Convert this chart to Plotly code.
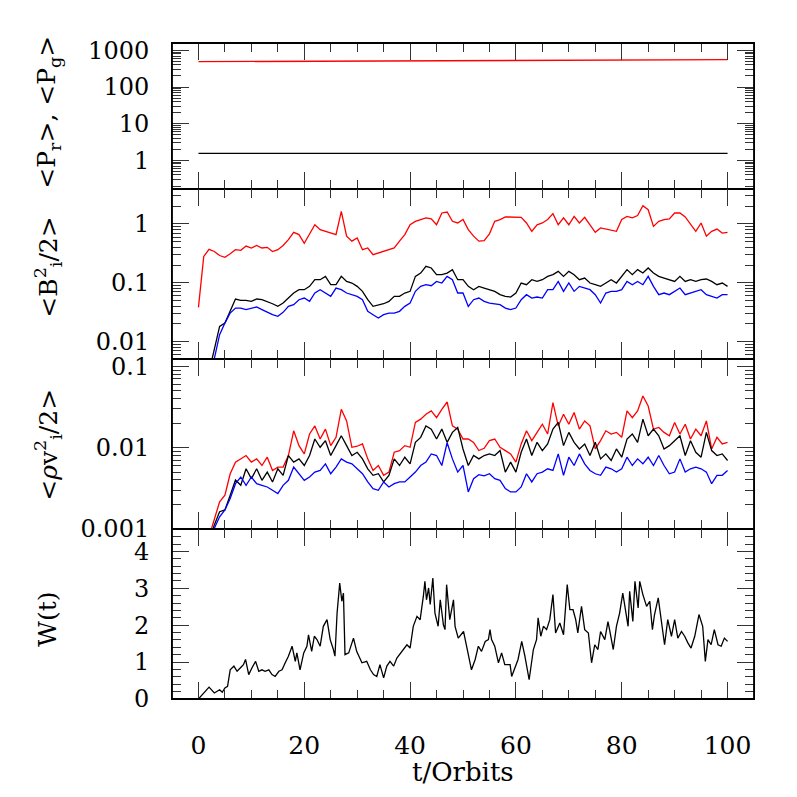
import plotly.graph_objects as go
from plotly.subplots import make_subplots

# ---------------- data ----------------
t_full = list(range(0, 101))
t_late = list(range(2, 101))

# panel 1: pressures
t_p = [0, 50, 100]
p_gas = [490, 522, 558]
p_rad = [1.55, 1.55, 1.55]

# panel 2: magnetic energy <B_i^2/2>
b_red = [0.038, 0.28, 0.37, 0.34, 0.29, 0.27, 0.31, 0.365, 0.356, 0.42,
         0.39, 0.43, 0.39, 0.40, 0.34, 0.365, 0.43, 0.54, 0.72, 0.66,
         0.47, 0.66, 0.97, 0.80, 0.75, 0.70, 0.66, 1.64, 0.62, 0.51,
         0.58, 0.365, 0.39, 0.30, 0.32, 0.34, 0.365, 0.39, 0.51, 0.66,
         0.97, 1.11, 1.19, 1.27, 1.22, 0.97, 1.54, 1.60, 1.11, 1.04,
         1.19, 0.80, 0.62, 0.51, 0.52, 0.68, 1.11, 1.19, 1.32, 1.32,
         1.32, 1.30, 1.04, 0.75, 0.97, 1.04, 1.19, 1.50, 0.97, 1.27,
         0.97, 1.35, 1.04, 1.30, 0.97, 0.72, 0.855, 0.82, 0.80, 0.75,
         1.19, 1.35, 1.27, 1.39, 2.05, 1.75, 0.91, 1.11, 1.19, 1.22,
         1.54, 1.54, 1.32, 0.97, 0.75, 1.04, 0.62, 0.75, 0.82, 0.70,
         0.72]
b_black = [0.003, 0.0072, 0.018, 0.0205, 0.0325, 0.0527, 0.050, 0.050, 0.048, 0.0527,
           0.0513, 0.048, 0.0438, 0.0395, 0.045, 0.0548, 0.0667, 0.076, 0.076, 0.0866,
           0.1125, 0.1125, 0.128, 0.0925, 0.0925, 0.128, 0.105, 0.0987, 0.0866, 0.0712,
           0.0513, 0.0395, 0.041, 0.0438, 0.048, 0.0585, 0.0585, 0.0667, 0.0712, 0.128,
           0.146, 0.190, 0.178, 0.137, 0.137, 0.146, 0.167, 0.1125, 0.1125, 0.0866,
           0.076, 0.0866, 0.0811, 0.076, 0.0712, 0.0625, 0.0585, 0.057, 0.0667, 0.0987,
           0.0925, 0.1125, 0.105, 0.1125, 0.128, 0.137, 0.156, 0.128, 0.156, 0.137,
           0.1125, 0.120, 0.0987, 0.0925, 0.0866, 0.0987, 0.1125, 0.0987, 0.128, 0.167,
           0.137, 0.167, 0.146, 0.178, 0.146, 0.128, 0.120, 0.1125, 0.105, 0.128,
           0.105, 0.1125, 0.105, 0.1125, 0.1155, 0.105, 0.0925, 0.0987, 0.0866]
b_blue = [0.002, 0.0052, 0.013, 0.0205, 0.0304, 0.037, 0.037, 0.0347, 0.037, 0.0385,
          0.0347, 0.0312, 0.0285, 0.0267, 0.0312, 0.0395, 0.0422, 0.0513, 0.0548, 0.048,
          0.0667, 0.076, 0.0667, 0.0585, 0.0811, 0.076, 0.0667, 0.0625, 0.0585, 0.0513,
          0.0325, 0.0285, 0.025, 0.0285, 0.0304, 0.0304, 0.0325, 0.0395, 0.045, 0.0712,
          0.0866, 0.0925, 0.0889, 0.105, 0.0987, 0.128, 0.1125, 0.0667, 0.0667, 0.0395,
          0.0513, 0.0548, 0.048, 0.045, 0.0438, 0.0422, 0.037, 0.0347, 0.037, 0.0513,
          0.0625, 0.0548, 0.057, 0.0548, 0.076, 0.076, 0.105, 0.0712, 0.0987, 0.0712,
          0.0866, 0.0811, 0.076, 0.0625, 0.045, 0.0667, 0.0712, 0.0712, 0.076, 0.105,
          0.0925, 0.105, 0.0925, 0.128, 0.0866, 0.0625, 0.0667, 0.0625, 0.0712, 0.0811,
          0.0625, 0.0667, 0.0712, 0.076, 0.0625, 0.0585, 0.0548, 0.0625, 0.0625]

# panel 3: kinetic energy <rho v_i^2/2>
v_red = [0.0008, 0.00135, 0.00216, 0.0026, 0.00477, 0.00663, 0.00727, 0.00799, 0.00663, 0.00727,
         0.00603, 0.00762, 0.00524, 0.00576, 0.00576, 0.00799, 0.0161, 0.01058, 0.00837, 0.0147,
         0.0185, 0.01276, 0.0169, 0.01058, 0.01337, 0.0296, 0.0213, 0.0101, 0.0104, 0.0111,
         0.00727, 0.00524, 0.00603, 0.00456, 0.0050, 0.00877, 0.00919, 0.01058, 0.0101, 0.0204,
         0.0224, 0.0257, 0.0283, 0.0234, 0.0296, 0.0364, 0.0185, 0.0169, 0.01276, 0.01276,
         0.0116, 0.0092, 0.0098, 0.0122, 0.01276, 0.0101, 0.00919, 0.00837, 0.00663, 0.0111,
         0.0161, 0.0122, 0.0154, 0.0194, 0.0147, 0.0357, 0.0185, 0.0257, 0.0194, 0.0270,
         0.0169, 0.0213, 0.0185, 0.00963, 0.0122, 0.0161, 0.0147, 0.0154, 0.0134, 0.0283,
         0.0234, 0.0283, 0.0431, 0.0325, 0.0169, 0.0177, 0.0154, 0.0140, 0.0204, 0.0147,
         0.0194, 0.01276, 0.0169, 0.0140, 0.0213, 0.00963, 0.0134, 0.0111, 0.0116]
v_black = [0.0007, 0.00112, 0.00163, 0.00171, 0.0026, 0.0040, 0.00344, 0.00549, 0.00415, 0.00549,
           0.00396, 0.0050, 0.00378, 0.00549, 0.00456, 0.00799, 0.00663, 0.00727, 0.00603, 0.00799,
           0.01276, 0.0101, 0.01217, 0.00799, 0.01058, 0.0140, 0.01058, 0.00799, 0.00877, 0.00727,
           0.00549, 0.00456, 0.00477, 0.00378, 0.00456, 0.00727, 0.00603, 0.00762, 0.00632, 0.01162,
           0.01337, 0.0185, 0.0169, 0.01276, 0.0169, 0.01162, 0.0154, 0.0177, 0.00963, 0.00603,
           0.00799, 0.00727, 0.00799, 0.00837, 0.00799, 0.00919, 0.0050, 0.00663, 0.0050, 0.00877,
           0.01276, 0.00799, 0.01162, 0.00919, 0.01108, 0.0169, 0.0204, 0.01058, 0.0154, 0.01162,
           0.00963, 0.01108, 0.00799, 0.01162, 0.00727, 0.00837, 0.00694, 0.00963, 0.00762, 0.01276,
           0.0147, 0.01162, 0.0224, 0.0140, 0.0169, 0.0140, 0.00963, 0.01058, 0.01217, 0.0140,
           0.00799, 0.01217, 0.00877, 0.00762, 0.0154, 0.00919, 0.00799, 0.00837, 0.00694]
v_blue = [0.0006, 0.00102, 0.00141, 0.00171, 0.00237, 0.0036, 0.00435, 0.00344, 0.00435, 0.0036,
          0.00344, 0.00328, 0.00299, 0.00272, 0.00344, 0.00396, 0.00576, 0.00477, 0.00396, 0.00435,
          0.0050, 0.00524, 0.00632, 0.00477, 0.00576, 0.00727, 0.00663, 0.00632, 0.00549, 0.00477,
          0.00378, 0.00313, 0.00299, 0.00378, 0.00328, 0.0036, 0.00378, 0.00378, 0.00435, 0.0050,
          0.00603, 0.00663, 0.00837, 0.00799, 0.00603, 0.0115, 0.00727, 0.0050, 0.00603, 0.00285,
          0.00415, 0.00465, 0.0045, 0.00477, 0.00415, 0.00396, 0.00313, 0.00285, 0.00285, 0.00328,
          0.00477, 0.00378, 0.00477, 0.0050, 0.00549, 0.00524, 0.00837, 0.00456, 0.00762, 0.00603,
          0.00837, 0.00632, 0.00524, 0.00477, 0.00456, 0.00576, 0.00549, 0.0050, 0.00549, 0.00762,
          0.00603, 0.00727, 0.00632, 0.00762, 0.00603, 0.00799, 0.00603, 0.00477, 0.0050, 0.00727,
          0.0050, 0.00549, 0.00576, 0.00549, 0.0050, 0.0036, 0.00456, 0.00456, 0.00524]

# panel 4: W(t)
t_w = [0, 2, 3, 4, 4.5, 5, 5.5, 6, 6.7, 7.3,
       7.9, 8.5, 8.9, 9.5, 10.1, 10.8, 11.4, 12, 12.6, 13.3,
       13.9, 14.5, 15.2, 15.8, 16.4, 17, 17.7, 18.3, 18.6, 19.2,
       19.9, 20.5, 20.8, 21.4, 21.9, 22.4, 23, 23.6, 24.3, 24.9,
       25.5, 25.8, 26.2, 26.7, 27.1, 27.4, 27.7, 28.4, 29.3, 29.9,
       30.9, 31.8, 32.5, 33.1, 33.7, 34.3, 35, 35.6, 36.2, 36.9,
       37.5, 38.7, 39.4, 40, 40.6, 41.3, 41.9, 42.5, 42.8, 43.1,
       43.5, 43.8, 44.3, 44.7, 45.3, 45.7, 46.3, 46.6, 46.9, 47.5,
       48.2, 48.5, 49.1, 50.1, 50.7, 51.6, 52.3, 52.9, 53.5, 54.2,
       54.8,
       55.1, 55.4, 56, 56.7, 57.3, 57.9, 58.9, 59.2, 59.8, 60.4,
       61.1, 61.7, 62.5, 63.3, 63.9, 64.2, 64.7, 65.2, 65.8, 66.4,
       67, 67.5, 68.3, 69, 69.7, 70.2, 70.8, 71.3, 71.7, 72.4,
       73, 73.7, 74.3, 74.9, 75.5, 76, 76.8, 77.4, 77.7, 78.4,
       79, 79.6, 80.2, 80.8, 81.2, 81.5, 82.1, 82.5, 83.1, 83.4,
       84, 84.7, 85.3, 85.8, 86.2, 86.9, 87.5, 88.1, 88.7, 89.4,
       90, 90.6, 91.3, 91.9, 92.5, 93.1, 93.8, 94.6, 95.3, 95.8,
       96.3, 96.9, 97.5, 98.2, 98.8, 99.4, 100]
w_val = [0, 0.32, 0.16, 0.25, 0.18, 0.30, 0.34, 0.79, 0.89, 0.75,
         0.84, 0.93, 1.07, 0.66, 0.84, 1.02, 0.75, 0.79, 0.75, 0.79,
         0.66, 0.61, 0.75, 0.79, 0.98, 1.16, 1.43, 1.02, 1.25, 0.79,
         1.25, 1.43, 1.74, 1.29, 1.70, 1.61, 1.43, 1.97, 2.15, 1.61,
         1.34, 1.16, 2.33, 3.14, 2.65, 2.87, 1.20, 1.25, 1.65, 1.29,
         0.98, 1.02, 0.79, 0.66, 0.61, 0.93, 0.57, 0.89, 1.02, 0.89,
         1.11, 1.34, 1.47, 1.38, 1.97, 2.24, 2.15, 2.78, 3.19, 2.69,
         3.01, 2.56, 3.28, 2.33, 1.97, 2.69, 2.01, 1.88, 3.10, 2.15,
         2.69, 1.97, 1.65, 1.83, 1.43, 0.79, 1.07, 1.43, 1.29, 1.56,
         1.61,
         1.88, 1.61, 1.43, 0.98, 1.25, 0.93, 0.93, 0.61, 0.84, 1.07,
         1.56, 1.16, 0.52, 1.34, 1.61, 2.20, 1.70, 1.97, 1.88, 2.15,
         2.83, 1.79, 2.06, 1.74, 3.10, 2.42, 2.42, 2.15, 1.79, 2.51,
         1.88, 1.79, 0.98, 1.47, 1.34, 1.83, 1.61, 2.10, 1.88, 1.34,
         1.97, 2.33, 2.87, 2.38, 1.97, 2.92, 2.10, 3.19, 2.47, 3.19,
         2.83, 2.51, 2.65, 1.88, 2.29, 2.74, 2.15, 1.47, 2.15, 1.70,
         2.15, 1.65, 1.83, 1.70, 1.52, 1.38, 1.70, 2.29, 1.97, 1.02,
         1.61, 1.47, 1.88, 1.47, 1.43, 1.65, 1.56]

x_ticks = [0, 20, 40, 60, 80, 100]
x_ticktext = ["0", "20", "40", "60", "80", "100"]

# ---------------- figure ----------------
RED, BLACK, BLUE = "#ff0000", "#000000", "#0000ff"
FONT = "DejaVu Serif"
LW = 1.3
TICKC = "#333333"

fig = make_subplots(rows=4, cols=1, shared_xaxes=True, vertical_spacing=0)

fig.add_trace(go.Scatter(x=t_p, y=p_gas, mode="lines", line=dict(color=RED, width=LW)), 1, 1)
fig.add_trace(go.Scatter(x=t_p, y=p_rad, mode="lines", line=dict(color=BLACK, width=LW)), 1, 1)

fig.add_trace(go.Scatter(x=t_full, y=b_red, mode="lines", line=dict(color=RED, width=LW)), 2, 1)
fig.add_trace(go.Scatter(x=t_late, y=b_black, mode="lines", line=dict(color=BLACK, width=LW)), 2, 1)
fig.add_trace(go.Scatter(x=t_late, y=b_blue, mode="lines", line=dict(color=BLUE, width=LW)), 2, 1)

fig.add_trace(go.Scatter(x=t_late, y=v_red, mode="lines", line=dict(color=RED, width=LW)), 3, 1)
fig.add_trace(go.Scatter(x=t_late, y=v_black, mode="lines", line=dict(color=BLACK, width=LW)), 3, 1)
fig.add_trace(go.Scatter(x=t_late, y=v_blue, mode="lines", line=dict(color=BLUE, width=LW)), 3, 1)

fig.add_trace(go.Scatter(x=t_w, y=w_val, mode="lines", line=dict(color=BLACK, width=LW)), 4, 1)

H = 656.0
doms = [[(699.3 - 189.3) / H, 1.0],
        [(699.3 - 359.3) / H, (699.3 - 189.3) / H],
        [(699.3 - 529.3) / H, (699.3 - 359.3) / H],
        [0.0, (699.3 - 529.3) / H]]

axis_common = dict(showline=True, linecolor="black", linewidth=1.0, mirror="allticks",
                   ticks="inside", ticklen=17, tickwidth=1.2, tickcolor=TICKC,
                   showgrid=False, zeroline=False,
                   tickfont=dict(family=FONT, size=24, color="black"))

for i in range(4):
    name = "xaxis" if i == 0 else "xaxis%d" % (i + 1)
    fig.layout[name].update(dict(axis_common, range=[-5, 105], tickmode="array",
                                 tickvals=x_ticks, ticktext=x_ticktext,
                                 showticklabels=(i == 3),
                                 minor=dict(dtick=5, tick0=0, ticks="inside", ticklen=9,
                                            tickwidth=1.2, tickcolor=TICKC, showgrid=False)))
fig.layout.xaxis4.ticklabelstandoff = 24
fig.layout.xaxis4.tickfont.size = 25

def log_minor(lo, hi):
    return [m * 10.0 ** e for e in range(lo, hi) for m in range(2, 10)]

ycfg = [
    dict(type="log", range=[-0.78, 3.20], tickvals=[1, 10, 100, 1000],
         ticktext=["1", "10", "100", "1000"], minor_vals=log_minor(-1, 4)),
    dict(type="log", range=[-2.30, 0.596], tickvals=[0.01, 0.1, 1],
         ticktext=["0.01", "0.1", "1"], minor_vals=log_minor(-3, 1)),
    dict(type="log", range=[-3.001, -0.91], tickvals=[0.001, 0.01, 0.1],
         ticktext=["0.001", "0.01", "0.1"], minor_vals=log_minor(-3, 0)),
    dict(type="linear", range=[-0.002, 4.61], tickvals=[0, 1, 2, 3, 4],
         ticktext=["0", "1", "2", "3", "4"],
         minor_vals=[k / 5 for k in range(0, 24) if k % 5 != 0]),
]
for i, c in enumerate(ycfg):
    name = "yaxis" if i == 0 else "yaxis%d" % (i + 1)
    fig.layout[name].update(dict(axis_common, type=c["type"], range=c["range"],
                                 tickmode="array", tickvals=c["tickvals"], ticktext=c["ticktext"],
                                 domain=doms[i], ticklabelstandoff=17,
                                 minor=dict(tickmode="array", tickvals=c["minor_vals"],
                                            ticks="inside", ticklen=9, tickwidth=1.2,
                                            tickcolor=TICKC, showgrid=False)))

# outer frame
fig.add_shape(type="rect", xref="paper", yref="paper", x0=0, x1=1, y0=0, y1=1,
              line=dict(color="black", width=1.8), fillcolor="rgba(0,0,0,0)", layer="above")

# y titles as annotations
ytitles = [
    ("&lt;P<sub>r</sub>&gt;, &lt;P<sub>g</sub>&gt;", 113),
    ("&lt;B<sup>2</sup><sub>i</sub>/2&gt;", 268),
    ("&lt;<i>ρ</i>v<sup>2</sup><sub>i</sub>/2&gt;", 445),
    ("W(t)", 620),
]
for txt, ypx in ytitles:
    fig.add_annotation(text=txt, xref="paper", yref="paper",
                       x=(48 - 172) / 582.0, y=(699.3 - ypx) / H,
                       xanchor="center", yanchor="middle", textangle=-90, showarrow=False,
                       font=dict(family=FONT, size=25, color="black"))

fig.add_annotation(text="t/Orbits", xref="paper", yref="paper",
                   x=0.5, y=(699.3 - 772) / H, xanchor="center", yanchor="middle",
                   showarrow=False, font=dict(family=FONT, size=26, color="black"))

# page body has an 8px default margin: compensate so the plot area sits at 172..754 x 43..699
fig.update_layout(width=789, height=781, showlegend=False,
                  paper_bgcolor="white", plot_bgcolor="white",
                  margin=dict(l=164, r=43, t=35, b=90))

fig.write_html("out.html")
